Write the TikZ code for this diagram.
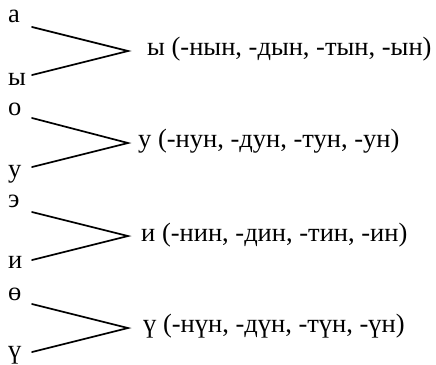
\documentclass[tikz,border=0pt]{standalone}
\usepackage{fontspec}
\setmainfont{Liberation Serif}
\begin{document}
\begin{tikzpicture}[x=1pt,y=-1pt,
  lbl/.style={anchor=base west,inner sep=0pt,font=\fontsize{26.5}{30}\selectfont},
  conn/.style={line width=1.7pt,line cap=round}]
\useasboundingbox (0,0) rectangle (436,364);
% group 1
\node[lbl] (a1) at (8,23) {а};
\node[lbl] (b1) at (8,85) {ы};
\coordinate (t1) at (32,27);
\coordinate (u1) at (32,75);
\coordinate (p1) at (128,51);
\node[lbl] (r1) at (147,55) {ы (-нын, -дын, -тын, -ын)};
\draw[conn] (t1) -- (p1) -- (u1);
% group 2
\node[lbl] (a2) at (8,115) {о};
\node[lbl] (b2) at (8,177) {у};
\coordinate (t2) at (32,118);
\coordinate (u2) at (32,167);
\coordinate (p2) at (128,143);
\node[lbl] (r2) at (138,147) {у (-нун, -дун, -тун, -ун)};
\draw[conn] (t2) -- (p2) -- (u2);
% group 3
\node[lbl] (a3) at (8,207) {э};
\node[lbl] (b3) at (8,268) {и};
\coordinate (t3) at (32,212);
\coordinate (u3) at (32,260);
\coordinate (p3) at (128,236);
\node[lbl] (r3) at (141,241) {и (-нин, -дин, -тин, -ин)};
\draw[conn] (t3) -- (p3) -- (u3);
% group 4
\node[lbl] (a4) at (8,300) {ө};
\node[lbl] (b4) at (8,358) {ү};
\coordinate (t4) at (32,304);
\coordinate (u4) at (32,352);
\coordinate (p4) at (128,328);
\node[lbl] (r4) at (143,332) {ү (-нүн, -дүн, -түн, -үн)};
\draw[conn] (t4) -- (p4) -- (u4);
\end{tikzpicture}
\end{document}
